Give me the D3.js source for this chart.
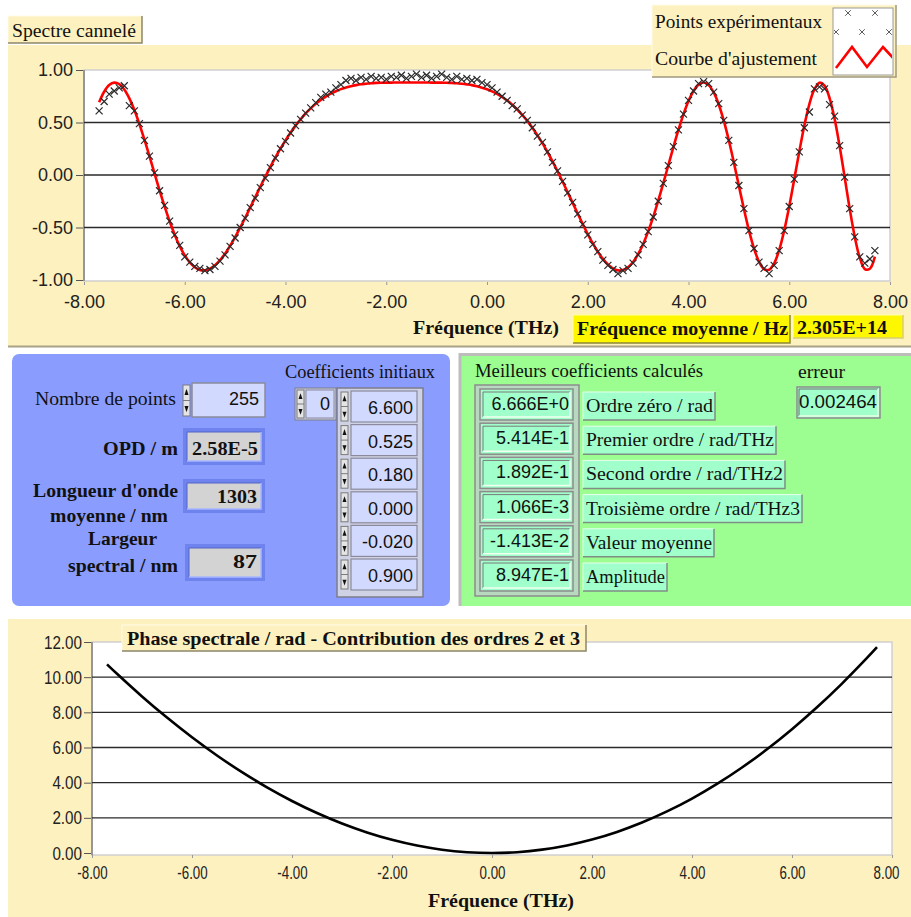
<!DOCTYPE html>
<html>
<head>
<meta charset="utf-8">
<title>Spectre cannelé</title>
<script src="https://cdn.jsdelivr.net/npm/d3@7"></script>
<style>
  body { margin: 0; background: #fff; }
  svg { display: block; }
</style>
</head>
<body>
<svg id="panel" width="911" height="917"></svg>
<script>
"use strict";

// frequency grid of the fit / measured points (THz)
const fitFreq = [
  -7.7,-7.6,-7.5,-7.4,-7.3,-7.2,-7.1,-7.0,-6.9,-6.8,-6.7,-6.6,-6.5,-6.4,-6.3,-6.2,-6.1,-6.0,-5.9,-5.8,
  -5.7,-5.6,-5.5,-5.4,-5.3,-5.2,-5.1,-5.0,-4.9,-4.8,-4.7,-4.6,-4.5,-4.4,-4.3,-4.2,-4.1,-4.0,-3.9,-3.8,
  -3.7,-3.6,-3.5,-3.4,-3.3,-3.2,-3.1,-3.0,-2.9,-2.8,-2.7,-2.6,-2.5,-2.4,-2.3,-2.2,-2.1,-2.0,-1.9,-1.8,
  -1.7,-1.6,-1.5,-1.4,-1.3,-1.2,-1.1,-1.0,-0.9,-0.8,-0.7,-0.6,-0.5,-0.4,-0.3,-0.2,-0.1,0.0,0.1,0.2,
  0.3,0.4,0.5,0.6,0.7,0.8,0.9,1.0,1.1,1.2,1.3,1.4,1.5,1.6,1.7,1.8,1.9,2.0,2.1,2.2,
  2.3,2.4,2.5,2.6,2.7,2.8,2.9,3.0,3.1,3.2,3.3,3.4,3.5,3.6,3.7,3.8,3.9,4.0,4.1,4.2,
  4.3,4.4,4.5,4.6,4.7,4.8,4.9,5.0,5.1,5.2,5.3,5.4,5.5,5.6,5.7,5.8,5.9,6.0,6.1,6.2,
  6.3,6.4,6.5,6.6,6.7,6.8,6.9,7.0,7.1,7.2,7.3,7.4,7.5,7.6,7.7
];
// "Courbe d'ajustement"
const fitVals = [
  0.692,0.793,0.857,0.880,0.865,0.814,0.730,0.619,0.485,0.336,0.177,0.015,-0.146,-0.299,-0.441,-0.568,-0.677,-0.766,-0.833,-0.879,
  -0.904,-0.908,-0.893,-0.860,-0.811,-0.749,-0.675,-0.592,-0.502,-0.407,-0.309,-0.211,-0.112,-0.016,0.077,0.167,0.251,0.330,0.403,0.470,
  0.531,0.586,0.634,0.678,0.715,0.747,0.775,0.798,0.818,0.833,0.846,0.856,0.864,0.869,0.874,0.877,0.879,0.880,0.880,0.881,
  0.881,0.881,0.881,0.881,0.881,0.881,0.880,0.880,0.880,0.878,0.877,0.874,0.869,0.863,0.856,0.845,0.832,0.816,0.796,0.772,
  0.743,0.709,0.670,0.624,0.573,0.515,0.451,0.380,0.303,0.219,0.130,0.036,-0.062,-0.163,-0.265,-0.367,-0.467,-0.563,-0.652,-0.731,
  -0.799,-0.853,-0.890,-0.908,-0.904,-0.878,-0.828,-0.754,-0.657,-0.537,-0.399,-0.244,-0.078,0.094,0.265,0.429,0.578,0.704,0.800,0.861,
  0.881,0.856,0.786,0.672,0.518,0.331,0.120,-0.103,-0.323,-0.527,-0.699,-0.826,-0.897,-0.903,-0.842,-0.715,-0.529,-0.298,-0.039,0.225,
  0.472,0.676,0.817,0.879,0.851,0.733,0.535,0.274,-0.022,-0.321,-0.587,-0.788,-0.896,-0.893,-0.778
];
// "Points expérimentaux"
const expVals = [
  0.61,0.70,0.77,0.80,0.83,0.85,0.66,0.61,0.49,0.33,0.18,0.02,-0.15,-0.29,-0.44,-0.57,-0.67,-0.78,-0.83,-0.87,
  -0.89,-0.91,-0.90,-0.87,-0.82,-0.76,-0.68,-0.60,-0.50,-0.41,-0.31,-0.22,-0.12,-0.03,0.07,0.16,0.25,0.32,0.40,0.47,
  0.53,0.59,0.64,0.69,0.74,0.77,0.79,0.83,0.86,0.90,0.92,0.90,0.93,0.91,0.94,0.92,0.93,0.91,0.94,0.93,
  0.95,0.92,0.94,0.96,0.93,0.95,0.92,0.94,0.96,0.93,0.91,0.94,0.91,0.92,0.90,0.91,0.88,0.86,0.83,0.79,
  0.75,0.71,0.66,0.63,0.57,0.52,0.45,0.37,0.31,0.22,0.12,0.04,-0.06,-0.17,-0.26,-0.37,-0.47,-0.57,-0.66,-0.73,
  -0.81,-0.86,-0.90,-0.94,-0.91,-0.89,-0.84,-0.76,-0.66,-0.54,-0.40,-0.25,-0.08,0.09,0.27,0.43,0.58,0.71,0.80,0.87,
  0.89,0.87,0.79,0.68,0.52,0.33,0.12,-0.10,-0.32,-0.53,-0.70,-0.83,-0.89,-0.94,-0.86,-0.72,-0.53,-0.30,-0.04,0.22,
  0.45,0.60,0.82,0.84,0.82,0.67,0.56,0.28,-0.02,-0.32,-0.59,-0.78,-0.84,-0.80,-0.72
];

// phase spectrale (ordres 2 et 3)
const phaseFreq = [-7.7,-7.5,-7.0,-6.5,-6.0,-5.5,-5.0,-4.5,-4.0,-3.5,-3.0,-2.5,-2.0,-1.5,-1.0,-0.5,0,
  0.5,1.0,1.5,2.0,2.5,3.0,3.5,4.0,4.5,5.0,5.5,6.0,6.5,7.0,7.5,7.7];
const phaseVals = [10.731,10.193,8.905,7.701,6.581,5.546,4.597,3.734,2.959,2.272,1.674,1.166,0.748,0.422,0.188,0.047,0,
  0.047,0.190,0.429,0.765,1.199,1.732,2.363,3.095,3.929,4.863,5.901,7.042,8.286,9.636,11.092,11.705];

const xTicks = [-8, -6, -4, -2, 0, 2, 4, 6, 8];
const topYTicks = [-1, -0.5, 0, 0.5, 1];
const topGrid = [-0.5, 0, 0.5];
const botYTicks = [0, 2, 4, 6, 8, 10, 12];
const botGrid = [2, 4, 6, 8, 10];

const initCoefs = ["6.600", "0.525", "0.180", "0.000", "-0.020", "0.900"];
const bestCoefs = ["6.666E+0", "5.414E-1", "1.892E-1", "1.066E-3", "-1.413E-2", "8.947E-1"];
const bestNames = ["Ordre zéro / rad", "Premier ordre / rad/THz", "Second ordre / rad/THz2",
  "Troisième ordre / rad/THz3", "Valeur moyenne", "Amplitude"];
const bestNameWidths = [132, 193, 202, 219, 131, 84];

const SERIF = "'Liberation Serif', 'Times New Roman', serif";
const SANS = "'Liberation Sans', Arial, sans-serif";
const BEIGE = "#fdf1bf";
const BLUE = "#8a9dff";
const GREEN = "#9cfd90";
const MINT = "#a0ffca";
const LAV = "#d2d9ff";
const YELLOW = "#fff700";

const fmt = d3.formatLocale({decimal: ".", thousands: ",", grouping: [3], currency: ["", ""], minus: "-"}).format(".2f");
const svg = d3.select("#panel");

function rect(x, y, w, h, fill, stroke, sw) {
  return svg.append("rect").attr("x", x).attr("y", y).attr("width", w).attr("height", h)
    .attr("fill", fill).attr("stroke", stroke || "none").attr("stroke-width", sw || 1);
}

function bevel(x, y, w, h, light, dark) {
  svg.append("path").attr("d", `M${x},${y + h}V${y}H${x + w}`).attr("fill", "none").attr("stroke", light);
  svg.append("path").attr("d", `M${x + w},${y}V${y + h}H${x}`).attr("fill", "none").attr("stroke", dark).attr("stroke-width", 1.5);
}

function txt(x, y, s, o = {}) {
  const t = svg.append("text").attr("x", x).attr("y", y).text(s)
    .attr("font-family", o.sans ? SANS : SERIF)
    .attr("font-size", o.size || (o.sans ? 18 : 19))
    .attr("font-weight", o.bold ? "bold" : null)
    .attr("text-anchor", o.anchor || "start")
    .attr("fill", o.color || "#111");
  if (o.w) t.attr("textLength", o.w).attr("lengthAdjust", "spacingAndGlyphs");
  return t;
}

function spinner(x, y, h) {
  rect(x, y, 7, h, "#e4e4e4", "#7a7a7a");
  const m = y + h / 2;
  svg.append("path").attr("d", `M${x + 1.5},${y + h * 0.32}L${x + 3.5},${y + h * 0.12}L${x + 5.5},${y + h * 0.32}Z`).attr("fill", "#111");
  svg.append("path").attr("d", `M${x + 1.5},${y + h * 0.68}L${x + 3.5},${y + h * 0.88}L${x + 5.5},${y + h * 0.68}Z`).attr("fill", "#111");
  svg.append("line").attr("x1", x).attr("x2", x + 7).attr("y1", m).attr("y2", m).attr("stroke", "#7a7a7a");
}

function indicator(x, y, w, h) {
  rect(x, y, w, h, "#6f83ee");
  rect(x + 4, y + 4, w - 8, h - 8, "#d3d3d3");
  bevel(x + 4, y + 4, w - 8, h - 8, "#5565c8", "#a8b6ff");
}

function styleAxis(g, size, squeeze) {
  g.select(".domain").remove();
  g.selectAll(".tick line").attr("stroke", "#555");
  g.selectAll(".tick text").attr("font-family", SANS).attr("font-size", size).attr("fill", "#222");
  if (squeeze) {
    g.selectAll(".tick text").each(function() {
      const w = this.getComputedTextLength();
      d3.select(this).attr("textLength", w * squeeze).attr("lengthAdjust", "spacingAndGlyphs");
    });
  }
}

// ---------- top graph : Spectre cannelé ----------
rect(8, 45, 903, 302, BEIGE);
svg.append("line").attr("x1", 8).attr("x2", 911).attr("y1", 346.5).attr("y2", 346.5).attr("stroke", "#a9a285").attr("stroke-width", 2);

const xTop = d3.scaleLinear().domain([-8, 8]).range([84, 890]);
const yTop = d3.scaleLinear().domain([-1, 1]).range([280, 70]);

rect(84, 70, 806, 211, "#fff", "#cfcfcf", 1.5);
svg.append("line").attr("x1", 84).attr("x2", 84).attr("y1", 70).attr("y2", 281).attr("stroke", "#808080").attr("stroke-width", 1.5);
svg.append("g").selectAll("line").data(topGrid).join("line")
  .attr("x1", 84).attr("x2", 890).attr("y1", d => yTop(d)).attr("y2", d => yTop(d))
  .attr("stroke", "#2a2a2a").attr("stroke-width", 1.5);

const topLeft = svg.append("g").attr("transform", "translate(83,0)")
  .call(d3.axisLeft(yTop).tickValues(topYTicks).tickFormat(fmt).tickSize(7).tickPadding(3));
styleAxis(topLeft, 18);
const topBottom = svg.append("g").attr("transform", "translate(0,282)")
  .call(d3.axisBottom(xTop).tickValues(xTicks).tickFormat(fmt).tickSize(3).tickPadding(10));
styleAxis(topBottom, 18);
topBottom.selectAll(".tick line").attr("stroke", "#999");

const topClip = svg.append("clipPath").attr("id", "topclip");
topClip.append("rect").attr("x", 85).attr("y", 70).attr("width", 805).attr("height", 211);

const fitLine = d3.line().x((d, i) => xTop(fitFreq[i])).y(d => yTop(d)).curve(d3.curveCatmullRom);
svg.append("path").datum(fitVals).attr("d", fitLine).attr("fill", "none")
  .attr("stroke", "#ff0000").attr("stroke-width", 2.6).attr("clip-path", "url(#topclip)");

const cross = "M-3.5,-3.5L3.5,3.5M-3.5,3.5L3.5,-3.5";
svg.append("g").selectAll("path").data(expVals).join("path")
  .attr("transform", (d, i) => `translate(${xTop(fitFreq[i])},${yTop(d)})`)
  .attr("d", cross).attr("stroke", "#2a2a2a").attr("stroke-width", 1.2).attr("fill", "none");

// graph label
rect(8, 16, 134, 27, BEIGE);
bevel(8, 16, 134, 27, "#fffbe8", "#8d8669");
txt(12, 37, "Spectre cannelé", {w: 124});

// legend
rect(652, 5, 244, 72, BEIGE);
bevel(652, 5, 244, 72, "#fffbe8", "#9e987c");
txt(655, 28, "Points expérimentaux", {w: 167});
txt(655, 65, "Courbe d'ajustement", {w: 162});
rect(833, 8, 60, 67, "#fff", "#9a9a9a");
const legClip = svg.append("clipPath").attr("id", "legclip");
legClip.append("rect").attr("x", 834).attr("y", 9).attr("width", 58).attr("height", 65);
const legMarks = [[848, 13], [875, 13], [836, 32], [862, 32], [889, 32]];
svg.append("g").attr("clip-path", "url(#legclip)").selectAll("path").data(legMarks).join("path")
  .attr("transform", d => `translate(${d[0]},${d[1]}) scale(0.8)`)
  .attr("d", cross).attr("stroke", "#333").attr("fill", "none");
svg.append("path").attr("clip-path", "url(#legclip)")
  .attr("d", "M836,68L852,47L867,67L883,47L895,60")
  .attr("fill", "none").attr("stroke", "#ff0000").attr("stroke-width", 2.6);

// axis name and mean frequency
txt(413, 334, "Fréquence (THz)", {bold: true, w: 146});
rect(573, 315, 217, 28, YELLOW);
bevel(573, 315, 217, 28, "#ffffa0", "#8b873a");
txt(577, 335, "Fréquence moyenne / Hz", {bold: true, w: 211});
rect(793, 315, 110, 23, YELLOW);
bevel(793, 315, 110, 23, "#ffffb0", "#d8d070");
txt(797, 334, "2.305E+14", {bold: true, w: 90});

// ---------- blue panel : paramètres ----------
rect(12, 354, 438, 252, BLUE).attr("rx", 7);

txt(35, 405, "Nombre de points", {w: 141});
spinner(183, 385, 31);
rect(192, 383, 73, 34, LAV, "#8a8a9c", 1.5);
txt(259, 405, "255", {sans: true, anchor: "end"});

txt(178, 455, "OPD / m", {bold: true, anchor: "end", w: 75});
indicator(183, 428, 82, 37);
txt(192, 455, "2.58E-5", {bold: true, w: 66});

txt(105.5, 497, "Longueur d'onde", {bold: true, anchor: "middle", w: 145});
txt(109, 522, "moyenne / nm", {bold: true, anchor: "middle", w: 118});
indicator(183, 479, 82, 34);
txt(257, 503, "1303", {bold: true, anchor: "end", w: 40});

txt(122.5, 545, "Largeur", {bold: true, anchor: "middle", w: 69});
txt(123, 572, "spectral / nm", {bold: true, anchor: "middle", w: 110});
indicator(185, 544, 80, 37);
txt(257, 568, "87", {bold: true, anchor: "end", w: 24});

txt(285, 378, "Coefficients initiaux", {w: 150});
rect(295, 388, 41, 32, "#c9ccdc", "#7c7c8c");
spinner(297, 390, 28);
rect(306, 390, 28, 28, LAV, "#8a8a9c");
txt(330, 410, "0", {sans: true, anchor: "end"});

rect(337, 388, 86, 209, "#cfd2e4", "#7c7c8c", 1.5);
initCoefs.forEach((c, i) => {
  const y0 = 391 + i * 33.6;
  spinner(341, y0 + 1, 29);
  rect(351, y0, 66, 31, LAV, "#8a8a9c", 1.2);
  txt(413, y0 + 23, c, {sans: true, anchor: "end"});
});

// ---------- green panel : résultats ----------
rect(459, 353, 452, 253, GREEN);
svg.append("path").attr("d", "M460,606V354.5H911").attr("fill", "none").attr("stroke", "#bdbdbd").attr("stroke-width", 3);

txt(475, 377, "Meilleurs coefficients calculés", {w: 228});
txt(798, 378, "erreur", {w: 47});
rect(797, 387, 83, 31, MINT, "#8c8c8c", 1.5);
bevel(799, 389, 79, 27, "#6f6f6f", "#e8ffe8");
txt(799, 408, "0.002464", {sans: true, w: 78});

rect(475, 385, 104, 211, "#b8d8c0", "#8c8c8c", 1.5);
bestCoefs.forEach((c, i) => {
  const y0 = 389 + i * 34.2;
  rect(480, y0, 93, 31, MINT, "#8c8c8c", 1.5);
  bevel(483, y0 + 3, 87, 25, "#7a7a7a", "#f0fff0");
  txt(569, y0 + 21, c, {sans: true, anchor: "end"});
});
bestNames.forEach((n, i) => {
  const y0 = 392 + i * 34.2;
  const w = bestNameWidths[i];
  rect(583, y0, w, 28, MINT);
  bevel(583, y0, w, 28, "#e8fff0", "#7f8f85");
  txt(586, y0 + 20, n, {w: w - 5});
});

// ---------- bottom graph : phase spectrale ----------
rect(8, 619, 903, 298, BEIGE);

const xBot = d3.scaleLinear().domain([-8, 8]).range([92, 892]);
const yBot = d3.scaleLinear().domain([0, 12]).range([853, 642]);

rect(92, 642, 800, 213, "#fff", "#d0d0d0", 1.5);
svg.append("line").attr("x1", 92).attr("x2", 92).attr("y1", 642).attr("y2", 855).attr("stroke", "#808080").attr("stroke-width", 1.5);
svg.append("g").selectAll("line").data(botGrid).join("line")
  .attr("x1", 92).attr("x2", 892).attr("y1", d => yBot(d)).attr("y2", d => yBot(d))
  .attr("stroke", "#2a2a2a").attr("stroke-width", 1.3);

const botLeft = svg.append("g").attr("transform", "translate(91,0)")
  .call(d3.axisLeft(yBot).tickValues(botYTicks).tickFormat(fmt).tickSize(7).tickPadding(2));
styleAxis(botLeft, 19, 0.8);
const botBottom = svg.append("g").attr("transform", "translate(0,855)")
  .call(d3.axisBottom(xBot).tickValues(xTicks).tickFormat(fmt).tickSize(3).tickPadding(8));
styleAxis(botBottom, 18, 0.74);
botBottom.selectAll(".tick line").attr("stroke", "#999");
// keep the last label inside the window
botBottom.selectAll(".tick").filter(d => d === 8).select("text")
  .attr("text-anchor", "end").attr("x", 7);

const phaseLine = d3.line().x((d, i) => xBot(phaseFreq[i])).y(d => yBot(d)).curve(d3.curveCatmullRom);
svg.append("path").datum(phaseVals).attr("d", phaseLine).attr("fill", "none")
  .attr("stroke", "#000").attr("stroke-width", 2.6);

rect(122, 625, 464, 26, BEIGE);
bevel(122, 625, 464, 26, "#fffbe8", "#8d8669");
txt(127, 645, "Phase spectrale / rad - Contribution des ordres 2 et 3", {bold: true, w: 453});
txt(501, 907, "Fréquence (THz)", {bold: true, anchor: "middle", w: 146});
</script>
</body>
</html>
